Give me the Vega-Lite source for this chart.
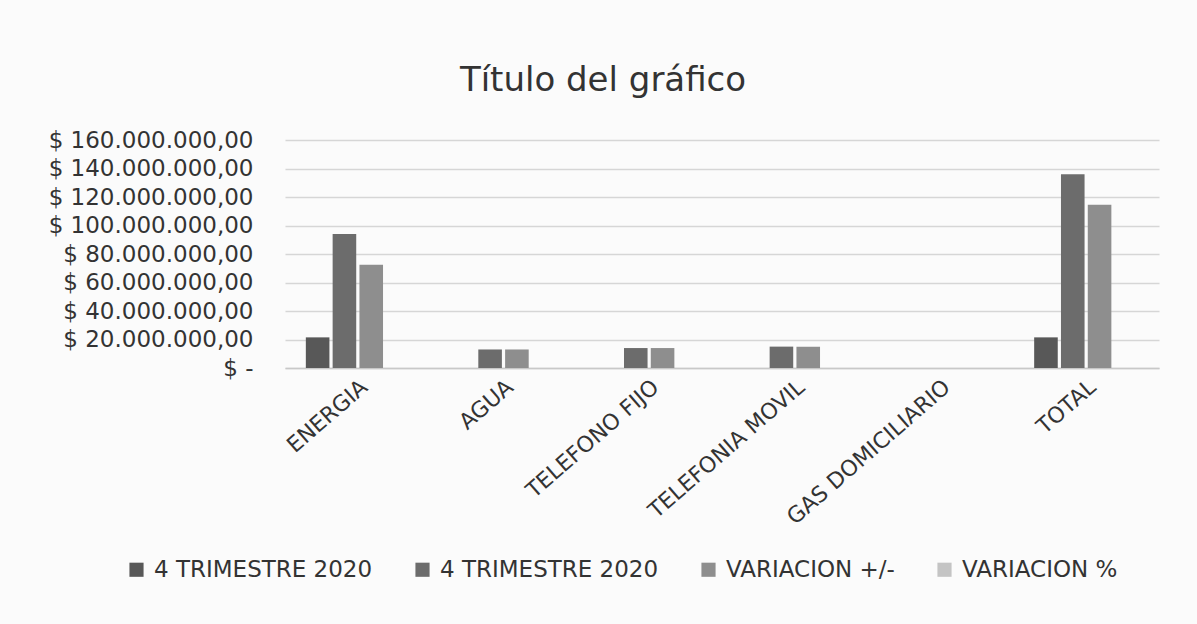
{
  "$schema": "https://vega.github.io/schema/vega-lite/v6.json",
  "autosize": {"type": "none"},
  "width": 874,
  "height": 228,
  "padding": {"left": 285, "top": 140, "right": 38, "bottom": 256},
  "background": "#fbfbfb",
  "title": {
    "text": "Título del gráfico",
    "fontSize": 34,
    "font": "DejaVu Sans",
    "fontWeight": "normal",
    "color": "#333333",
    "anchor": "middle",
    "dx": -119,
    "offset": 31
  },
  "data": {
    "values": [
      {"categoria": "ENERGIA", "serie": "4 TRIMESTRE 2020", "valor": 21500000},
      {"categoria": "ENERGIA", "serie": "4 TRIMESTRE 2020 ", "valor": 94000000},
      {"categoria": "ENERGIA", "serie": "VARIACION +/-", "valor": 72500000},
      {"categoria": "ENERGIA", "serie": "VARIACION %", "valor": 3.37},
      {"categoria": "AGUA", "serie": "4 TRIMESTRE 2020", "valor": 0},
      {"categoria": "AGUA", "serie": "4 TRIMESTRE 2020 ", "valor": 13000000},
      {"categoria": "AGUA", "serie": "VARIACION +/-", "valor": 13000000},
      {"categoria": "AGUA", "serie": "VARIACION %", "valor": 0},
      {"categoria": "TELEFONO FIJO", "serie": "4 TRIMESTRE 2020", "valor": 0},
      {"categoria": "TELEFONO FIJO", "serie": "4 TRIMESTRE 2020 ", "valor": 14000000},
      {"categoria": "TELEFONO FIJO", "serie": "VARIACION +/-", "valor": 14000000},
      {"categoria": "TELEFONO FIJO", "serie": "VARIACION %", "valor": 0},
      {"categoria": "TELEFONIA MOVIL", "serie": "4 TRIMESTRE 2020", "valor": 0},
      {"categoria": "TELEFONIA MOVIL", "serie": "4 TRIMESTRE 2020 ", "valor": 15000000},
      {"categoria": "TELEFONIA MOVIL", "serie": "VARIACION +/-", "valor": 15000000},
      {"categoria": "TELEFONIA MOVIL", "serie": "VARIACION %", "valor": 0},
      {"categoria": "GAS DOMICILIARIO", "serie": "4 TRIMESTRE 2020", "valor": 0},
      {"categoria": "GAS DOMICILIARIO", "serie": "4 TRIMESTRE 2020 ", "valor": 0},
      {"categoria": "GAS DOMICILIARIO", "serie": "VARIACION +/-", "valor": 0},
      {"categoria": "GAS DOMICILIARIO", "serie": "VARIACION %", "valor": 0},
      {"categoria": "TOTAL", "serie": "4 TRIMESTRE 2020", "valor": 21500000},
      {"categoria": "TOTAL", "serie": "4 TRIMESTRE 2020 ", "valor": 136000000},
      {"categoria": "TOTAL", "serie": "VARIACION +/-", "valor": 114500000},
      {"categoria": "TOTAL", "serie": "VARIACION %", "valor": 5.33}
    ]
  },
  "mark": {"type": "bar"},
  "encoding": {
    "x": {
      "field": "categoria",
      "type": "nominal",
      "sort": ["ENERGIA", "AGUA", "TELEFONO FIJO", "TELEFONIA MOVIL", "GAS DOMICILIARIO", "TOTAL"],
      "scale": {"paddingInner": 0.286, "paddingOuter": 0.143},
      "axis": {
        "title": null,
        "labelAngle": -41,
        "labelFontSize": 22,
        "labelFont": "DejaVu Sans",
        "labelColor": "#333333",
        "labelPadding": 8,
        "labelLimit": 400,
        "ticks": false,
        "domainColor": "#c8c8c8",
        "domainWidth": 1.5
      }
    },
    "xOffset": {
      "field": "serie",
      "type": "nominal",
      "sort": ["4 TRIMESTRE 2020", "4 TRIMESTRE 2020 ", "VARIACION +/-", "VARIACION %"],
      "scale": {"paddingInner": 0.12}
    },
    "y": {
      "field": "valor",
      "type": "quantitative",
      "scale": {"domain": [0, 160000000], "nice": false},
      "axis": {
        "title": null,
        "values": [0, 20000000, 40000000, 60000000, 80000000, 100000000, 120000000, 140000000, 160000000],
        "format": ",.2f",
        "labelExpr": "datum.value === 0 ? '$ -' : '$ ' + datum.label",
        "labelFontSize": 23,
        "labelFont": "DejaVu Sans",
        "labelColor": "#333333",
        "labelPadding": 32,
        "labelLimit": 400,
        "ticks": false,
        "domain": false,
        "gridColor": "#d6d6d6",
        "gridWidth": 1.5
      }
    },
    "color": {
      "field": "serie",
      "type": "nominal",
      "sort": ["4 TRIMESTRE 2020", "4 TRIMESTRE 2020 ", "VARIACION +/-", "VARIACION %"],
      "scale": {
        "domain": ["4 TRIMESTRE 2020", "4 TRIMESTRE 2020 ", "VARIACION +/-", "VARIACION %"],
        "range": ["#585858", "#6c6c6c", "#8e8e8e", "#c4c4c4"]
      },
      "legend": {
        "title": null,
        "orient": "none",
        "direction": "horizontal",
        "legendX": -160,
        "legendY": 418,
        "symbolType": "square",
        "symbolSize": 200,
        "symbolStrokeWidth": 0,
        "labelFontSize": 23,
        "labelFont": "DejaVu Sans",
        "labelColor": "#333333",
        "labelOffset": 6,
        "columnPadding": 38,
        "labelLimit": 400
      }
    }
  },
  "config": {
    "locale": {
      "number": {"decimal": ",", "thousands": ".", "grouping": [3], "currency": ["$", ""]}
    },
    "view": {"stroke": null}
  }
}
